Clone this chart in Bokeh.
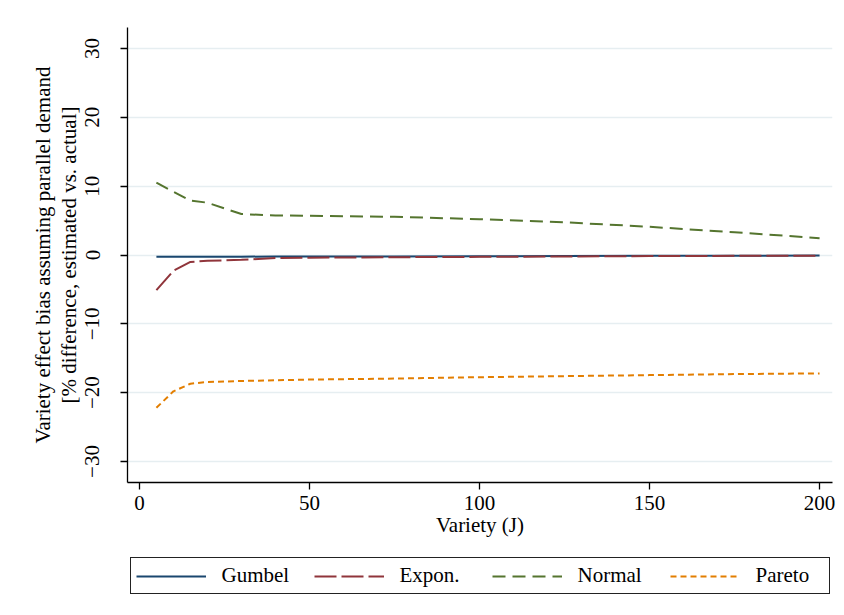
from bokeh.plotting import figure
from bokeh.models import Range1d, Legend, LegendItem, FixedTicker
from bokeh.layouts import column
from bokeh.embed import file_html
from bokeh.resources import INLINE

# ---- data ----
variety = [5, 10, 15, 20, 30, 40, 50, 75, 100, 125, 150, 175, 200]
gumbel = [-0.25, -0.25, -0.25, -0.25, -0.24, -0.23, -0.22, -0.2, -0.18, -0.15, -0.12, -0.1, -0.08]
expon = [-5.1, -2.3, -1.0, -0.85, -0.7, -0.45, -0.4, -0.32, -0.27, -0.22, -0.15, -0.12, -0.1]
normal = [10.5, 9.2, 7.9, 7.6, 5.95, 5.75, 5.7, 5.55, 5.2, 4.75, 4.1, 3.3, 2.45]
pareto = [-22.2, -19.8, -18.7, -18.45, -18.3, -18.2, -18.1, -17.95, -17.75, -17.6, -17.45, -17.3, -17.2]

series_names = ["Gumbel", "Expon.", "Normal", "Pareto"]
x_ticks = [0, 50, 100, 150, 200]
y_ticks = [-30, -20, -10, 0, 10, 20, 30]
y_tick_labels = ["\u221230", "\u221220", "\u221210", "0", "10", "20", "30"]

FONT = "Liberation Serif"
FS = "21px"

colors = ["#1a476f", "#90353b", "#55752f", "#e37e00"]
dashes = ["solid", "22 5", "13 7", "6 4"]
values = [gumbel, expon, normal, pareto]

p = figure(width=844, height=548, output_backend="svg", toolbar_location=None,
           x_range=Range1d(-3.5, 203.8), y_range=Range1d(-33.05, 33.05),
           min_border_left=127, min_border_top=27, min_border_right=12,
           min_border_bottom=66)
p.outline_line_color = None
p.background_fill_color = "white"
p.border_fill_color = "white"

# grid
p.xgrid.grid_line_color = None
p.ygrid.grid_line_color = "#e6eef1"
p.ygrid.grid_line_width = 1.5
p.ygrid.ticker = FixedTicker(ticks=y_ticks)

# axes
p.xaxis.ticker = FixedTicker(ticks=x_ticks)
p.yaxis.ticker = FixedTicker(ticks=y_ticks)
p.yaxis.major_label_overrides = {t: l for t, l in zip(y_ticks, y_tick_labels)}
p.yaxis.major_label_orientation = "vertical"
for ax in (p.xaxis[0], p.yaxis[0]):
    ax.axis_line_color = "black"
    ax.axis_line_width = 1.3
    ax.major_tick_line_color = "black"
    ax.major_tick_line_width = 1.3
    ax.major_tick_in = 0
    ax.major_tick_out = 7
    ax.minor_tick_line_color = None
    ax.major_label_text_font = FONT
    ax.major_label_text_font_size = FS
    ax.major_label_text_color = "black"
    ax.axis_label_text_font = FONT
    ax.axis_label_text_font_size = FS
    ax.axis_label_text_font_style = "normal"
    ax.axis_label_text_color = "black"

p.xaxis.axis_label = "Variety (J)"
p.xaxis.major_label_standoff = 6
p.xaxis.axis_label_standoff = 0
p.yaxis.axis_label = "Variety effect bias assuming parallel demand\n[% difference, estimated vs. actual]"
p.yaxis.major_label_standoff = 21
p.yaxis.axis_label_standoff = 2
p.yaxis.axis_label_text_line_height = 1.05

for name, vals, c, d in zip(series_names, values, colors, dashes):
    p.line(variety, vals, line_color=c, line_width=2, line_dash=d)

# ---- legend panel below the plot ----
lf = figure(width=844, height=67, output_backend="svg", toolbar_location=None,
            x_range=Range1d(0, 1), y_range=Range1d(0, 1),
            x_axis_type=None, y_axis_type=None,
            min_border_left=127, min_border_right=12,
            min_border_top=0, min_border_bottom=0)
lf.outline_line_color = None
lf.xgrid.grid_line_color = None
lf.ygrid.grid_line_color = None
lf.border_fill_color = "white"

items = []
for name, vals, c, d in zip(series_names, values, colors, dashes):
    r = lf.line(variety, vals, line_color=c, line_width=2, line_dash=d, visible=False)
    items.append(LegendItem(label=name, renderers=[r]))

legend = Legend(items=items, orientation="horizontal", location="top",
                glyph_width=70, glyph_height=20, label_standoff=16,
                label_width=68, spacing=24, padding=5, margin=9,
                label_text_font=FONT, label_text_font_size=FS,
                label_text_color="black",
                border_line_color="#222222", border_line_width=1.4,
                border_line_alpha=1.0,
                background_fill_color="white", background_fill_alpha=1.0,
                inactive_fill_alpha=0.0, click_policy="none")
lf.add_layout(legend)

open("out.html", "w").write(file_html(column(p, lf, spacing=0), INLINE))
